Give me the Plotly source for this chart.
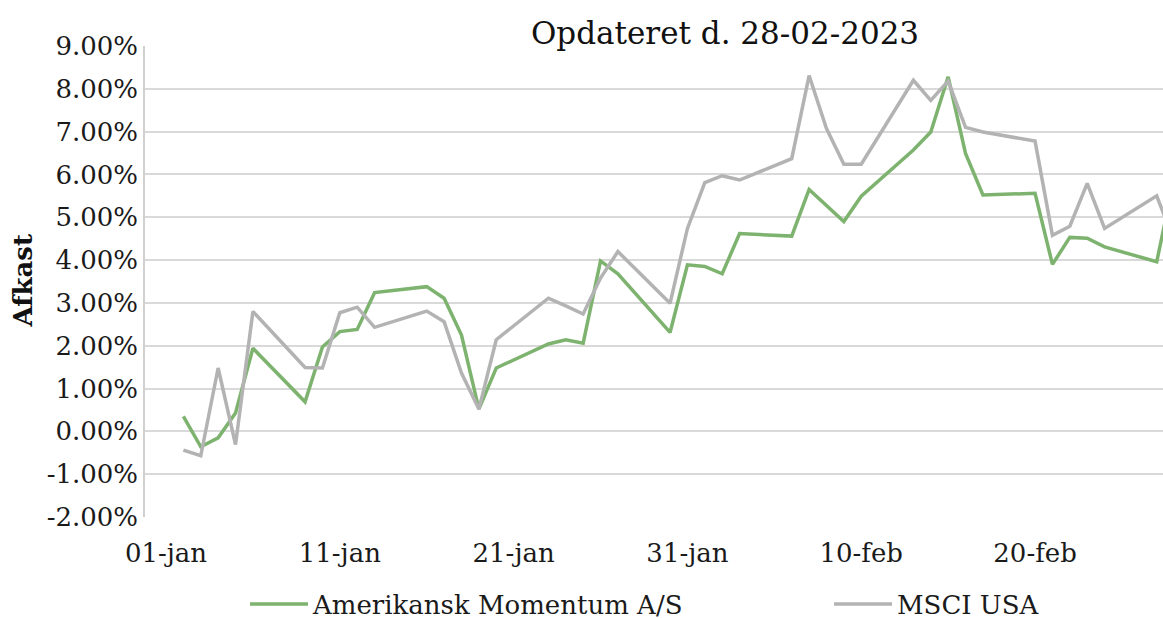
import plotly.graph_objects as go

dates = [
    "2023-01-02", "2023-01-03", "2023-01-04", "2023-01-05", "2023-01-06",
    "2023-01-09", "2023-01-10", "2023-01-11", "2023-01-12", "2023-01-13",
    "2023-01-16", "2023-01-17", "2023-01-18", "2023-01-19", "2023-01-20",
    "2023-01-23", "2023-01-24", "2023-01-25", "2023-01-26", "2023-01-27",
    "2023-01-30", "2023-01-31", "2023-02-01", "2023-02-02", "2023-02-03",
    "2023-02-06", "2023-02-07", "2023-02-08", "2023-02-09", "2023-02-10",
    "2023-02-13", "2023-02-14", "2023-02-15", "2023-02-16", "2023-02-17",
    "2023-02-20", "2023-02-21", "2023-02-22", "2023-02-23", "2023-02-24",
    "2023-02-27", "2023-02-28",
]

momentum = [
    0.35, -0.36, -0.15, 0.43, 1.94,
    0.69, 1.97, 2.33, 2.38, 3.24,
    3.38, 3.11, 2.25, 0.52, 1.48,
    2.04, 2.14, 2.06, 3.98, 3.68,
    2.31, 3.89, 3.85, 3.68, 4.62,
    4.56, 5.65, 5.27, 4.90, 5.49,
    6.57, 6.99, 8.28, 6.49, 5.52,
    5.56, 3.90, 4.53, 4.51, 4.31,
    3.96, 5.90,
]

msci = [
    -0.44, -0.57, 1.48, -0.31, 2.80,
    1.49, 1.48, 2.77, 2.90, 2.43,
    2.81, 2.56, 1.36, 0.52, 2.14,
    3.11, 2.93, 2.74, 3.58, 4.20,
    2.99, 4.74, 5.81, 5.97, 5.87,
    6.37, 8.31, 7.07, 6.24, 6.24,
    8.20, 7.73, 8.18, 7.10, 6.99,
    6.78, 4.58, 4.79, 5.79, 4.74,
    5.50, 4.45,
]

x_tick_vals = ["2023-01-01", "2023-01-11", "2023-01-21", "2023-01-31", "2023-02-10", "2023-02-20"]
x_tick_text = ["01-jan", "11-jan", "21-jan", "31-jan", "10-feb", "20-feb"]

y_tick_vals = [-2, -1, 0, 1, 2, 3, 4, 5, 6, 7, 8, 9]
y_tick_text = ["-2.00%", "-1.00%", "0.00%", "1.00%", "2.00%", "3.00%", "4.00%",
               "5.00%", "6.00%", "7.00%", "8.00%", "9.00%"]

series_names = ["Amerikansk Momentum A/S", "MSCI USA"]
title_text = "Opdateret d. 28-02-2023"
y_title = "Afkast"

FONT = "DejaVu Serif"
TXT = "#1a1a1a"
FS = 26

W, H = 1163, 618
L, R, T, B = 145, 0, 46, 101
PW, PH = W - L - R, H - T - B

fig = go.Figure()
fig.add_trace(go.Scatter(x=dates, y=momentum, mode="lines", name=series_names[0],
                         line=dict(color="#7db36f", width=3.5), legend="legend"))
fig.add_trace(go.Scatter(x=dates, y=msci, mode="lines", name=series_names[1],
                         line=dict(color="#b3b3b3", width=3.5), legend="legend2"))

leg_common = dict(orientation="h", xanchor="left", yanchor="middle",
                  y=-(604 - (T + PH)) / PH,
                  font=dict(family=FONT, size=FS, color=TXT), itemwidth=58,
                  bgcolor="rgba(0,0,0,0)")

fig.update_layout(
    width=W, height=H,
    margin=dict(l=L, r=R, t=T, b=B, autoexpand=False),
    paper_bgcolor="white", plot_bgcolor="white",
    font=dict(family=FONT, size=FS, color=TXT),
    title=dict(text=title_text, x=725 / W, xref="container", xanchor="center",
               y=1 - 33 / H, yref="container", yanchor="middle",
               font=dict(family=FONT, size=31, color="#111111")),
    showlegend=True,
    legend=dict(x=(245 - L) / PW, **leg_common),
    legend2=dict(x=(829 - L) / PW, **leg_common),
    annotations=[dict(text="<b>" + y_title + "</b>", textangle=-90, x=(22 - L) / PW,
                      xref="paper", y=0.5, yref="paper", showarrow=False,
                      font=dict(family=FONT, size=FS, color="#111111"),
                      xanchor="center", yanchor="middle")],
)

fig.update_xaxes(
    type="date",
    range=["2022-12-30 19:00", "2023-02-27 08:40"],
    tickvals=x_tick_vals, ticktext=x_tick_text,
    showgrid=False, showline=False, ticks="", zeroline=False,
    ticklabelstandoff=18,
    tickfont=dict(family=FONT, size=FS, color=TXT),
)
fig.update_yaxes(
    range=[-2, 9], tickvals=y_tick_vals, ticktext=y_tick_text,
    showgrid=True, gridcolor="#d9d9d9", gridwidth=1.5,
    zeroline=False, showline=True, linecolor="#d0d0d0", linewidth=1.5,
    ticks="", tickfont=dict(family=FONT, size=FS, color=TXT),
)

fig.write_html("out.html",
               config={"displayModeBar": False},
               post_script="document.body.style.margin='0';document.body.style.overflow='hidden';")
